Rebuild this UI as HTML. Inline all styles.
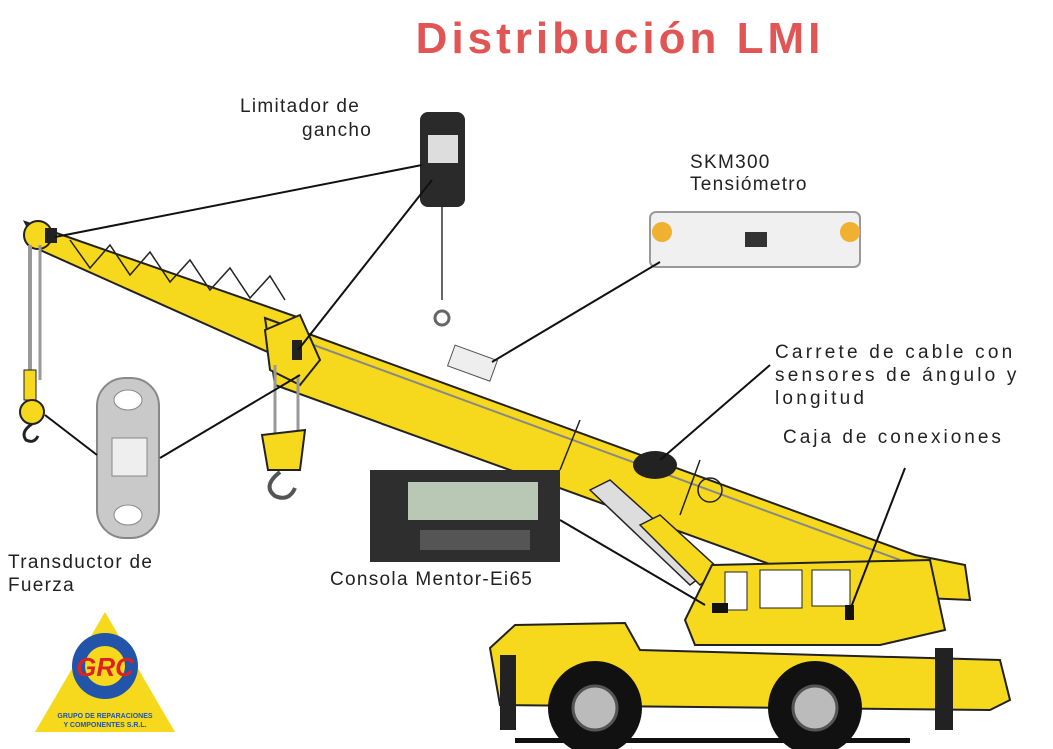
<!DOCTYPE html>
<html><head><meta charset="utf-8"><style>
html,body{margin:0;padding:0;background:#fff}
svg{display:block}
text{font-family:"Liberation Sans",sans-serif}
</style></head><body>
<svg width="1053" height="749" viewBox="0 0 1053 749" xmlns="http://www.w3.org/2000/svg">
<rect width="1053" height="749" fill="#fff"/>
<text x="620" y="53" font-size="44" font-weight="bold" fill="#e25555" text-anchor="middle" letter-spacing="4">Distribución LMI</text>

<polygon points="25,222 300,318 290,362 40,250" fill="#f6d81c" stroke="#222" stroke-width="2"/>
<g stroke="#222" stroke-width="1.5" fill="none">
<path d="M70,240 L90,268 L110,245 L130,275 L150,252 L170,282 L190,260 L210,290 L230,268 L250,298 L270,276 L285,300"/>
</g>
<polygon points="265,318 915,555 965,565 970,600 855,595 275,385" fill="#f6d81c" stroke="#222" stroke-width="2"/>
<line x1="300" y1="340" x2="900" y2="560" stroke="#888" stroke-width="2"/>
<line x1="580" y1="420" x2="560" y2="470" stroke="#222" stroke-width="1.5"/>
<line x1="700" y1="460" x2="680" y2="515" stroke="#222" stroke-width="1.5"/>
<circle cx="710" cy="490" r="12" fill="none" stroke="#222" stroke-width="1.5"/>
<polygon points="590,490 610,480 710,570 690,585" fill="#ddd" stroke="#222" stroke-width="1.5"/>
<polygon points="640,525 660,515 720,570 700,585" fill="#f6d81c" stroke="#222" stroke-width="1.5"/>
<ellipse cx="655" cy="465" rx="22" ry="14" fill="#222"/>
<polygon points="265,330 300,315 320,360 300,385 270,370" fill="#f6d81c" stroke="#222" stroke-width="2"/>
<rect x="292" y="340" width="10" height="20" fill="#222"/>
<circle cx="38" cy="235" r="14" fill="#f6d81c" stroke="#222" stroke-width="2"/>
<rect x="45" y="228" width="12" height="15" fill="#222"/>
<line x1="30" y1="245" x2="30" y2="400" stroke="#999" stroke-width="4"/>
<line x1="40" y1="245" x2="40" y2="380" stroke="#999" stroke-width="3"/>
<rect x="24" y="370" width="12" height="30" fill="#f6d81c" stroke="#222"/>
<circle cx="32" cy="412" r="12" fill="#f6d81c" stroke="#222" stroke-width="2"/>
<path d="M32,424 q-12,8 -6,16 q8,4 12,-4" fill="none" stroke="#222" stroke-width="3"/>
<line x1="275" y1="365" x2="275" y2="440" stroke="#999" stroke-width="3"/>
<line x1="298" y1="375" x2="298" y2="440" stroke="#999" stroke-width="3"/>
<polygon points="262,435 305,430 300,470 268,470" fill="#f6d81c" stroke="#222" stroke-width="2"/>
<path d="M280,472 q-18,14 -5,24 q14,6 20,-8" fill="none" stroke="#555" stroke-width="4"/>

<polygon points="712,565 930,560 945,630 880,645 695,645 685,620" fill="#f6d81c" stroke="#222" stroke-width="2"/>
<rect x="725" y="572" width="22" height="38" fill="#fff" stroke="#222"/>
<rect x="760" y="570" width="42" height="38" fill="#fff" stroke="#222"/>
<rect x="812" y="570" width="38" height="36" fill="#fff" stroke="#222"/>
<rect x="712" y="603" width="16" height="10" fill="#111"/>
<rect x="845" y="605" width="9" height="15" fill="#111"/>
<polygon points="490,648 515,625 625,623 640,650 1000,660 1010,700 990,710 500,705" fill="#f6d81c" stroke="#222" stroke-width="2"/>
<rect x="500" y="655" width="16" height="75" fill="#222"/>
<rect x="935" y="648" width="18" height="82" fill="#222"/>
<circle cx="595" cy="708" r="47" fill="#111"/>
<circle cx="595" cy="708" r="22" fill="#bbb" stroke="#555" stroke-width="3"/>
<circle cx="815" cy="708" r="47" fill="#111"/>
<circle cx="815" cy="708" r="22" fill="#bbb" stroke="#555" stroke-width="3"/>
<rect x="515" y="738" width="395" height="5" fill="#111"/>

<line x1="442" y1="200" x2="442" y2="300" stroke="#666" stroke-width="2"/>
<rect x="420" y="112" width="45" height="95" rx="8" fill="#2a2a2a"/>
<rect x="428" y="135" width="30" height="28" fill="#ddd"/>
<circle cx="442" cy="318" r="7" fill="none" stroke="#666" stroke-width="3"/>
<rect x="650" y="212" width="210" height="55" rx="6" fill="#f0f0f0" stroke="#999" stroke-width="2"/>
<circle cx="662" cy="232" r="10" fill="#f0b030"/>
<circle cx="850" cy="232" r="10" fill="#f0b030"/>
<rect x="745" y="232" width="22" height="15" fill="#333"/>
<rect x="450" y="352" width="45" height="22" fill="#eee" stroke="#555" transform="rotate(20 472 363)"/>
<rect x="97" y="378" width="62" height="160" rx="28" fill="#c9c9c9" stroke="#888" stroke-width="2"/>
<ellipse cx="128" cy="400" rx="14" ry="10" fill="#fff" stroke="#888"/>
<ellipse cx="128" cy="515" rx="14" ry="10" fill="#fff" stroke="#888"/>
<rect x="112" y="438" width="35" height="38" fill="#eee" stroke="#888"/>
<rect x="370" y="470" width="190" height="92" fill="#2e2e2e"/>
<rect x="408" y="482" width="130" height="38" fill="#b9c7b5"/>
<rect x="420" y="530" width="110" height="20" fill="#555"/>

<g stroke="#111" stroke-width="2">
<line x1="422" y1="165" x2="55" y2="237"/>
<line x1="432" y1="180" x2="298" y2="350"/>
<line x1="660" y1="262" x2="492" y2="362"/>
<line x1="770" y1="365" x2="660" y2="460"/>
<line x1="905" y1="468" x2="850" y2="610"/>
<line x1="560" y1="520" x2="705" y2="605"/>
<line x1="97" y1="455" x2="45" y2="415"/>
<line x1="160" y1="458" x2="300" y2="375"/>
</g>

<g font-size="19" fill="#222" letter-spacing="1.3">
<text x="240" y="112">Limitador de</text>
<text x="302" y="136">gancho</text>
<text x="690" y="168">SKM300</text>
<text x="690" y="190">Tensiómetro</text>
<text x="775" y="358" letter-spacing="3.2">Carrete de cable con</text>
<text x="775" y="381" letter-spacing="3.2">sensores de ángulo y</text>
<text x="775" y="404" letter-spacing="3.2">longitud</text>
<text x="783" y="443" letter-spacing="3">Caja de conexiones</text>
<text x="8" y="568">Transductor de</text>
<text x="8" y="591">Fuerza</text>
<text x="330" y="585">Consola Mentor-Ei65</text>
</g>

<polygon points="105,612 175,732 35,732" fill="#f6d81c"/>
<circle cx="105" cy="666" r="33" fill="#2255aa"/>
<circle cx="105" cy="666" r="20" fill="#f6d81c"/>
<text x="105" y="676" font-size="26" font-weight="bold" font-style="italic" fill="#dd2222" text-anchor="middle" font-family="Liberation Serif,serif">GRC</text>
<text x="105" y="718" font-size="7" font-weight="bold" fill="#2255aa" text-anchor="middle">GRUPO DE REPARACIONES</text>
<text x="105" y="727" font-size="7" font-weight="bold" fill="#2255aa" text-anchor="middle">Y COMPONENTES S.R.L.</text>
</svg>
</body></html>
